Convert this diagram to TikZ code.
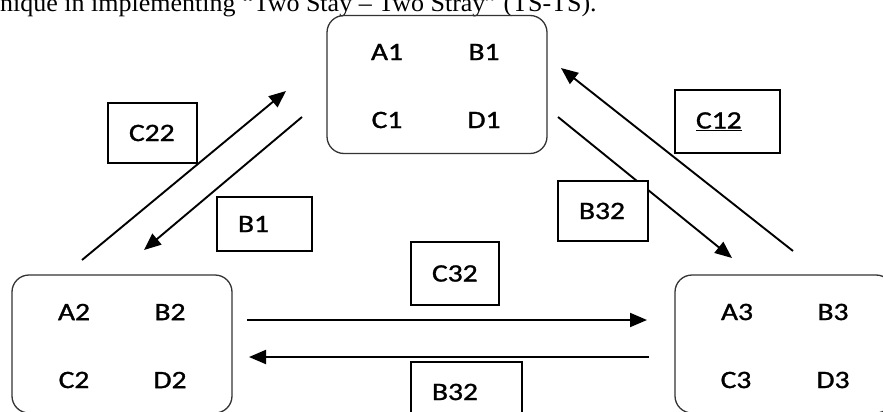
\documentclass[tikz,border=0pt]{standalone}
\usepackage{fontspec}
\setmainfont{Carlito}[FakeStretch=1.18,FakeBold=1.2]
\newfontfamily\headfont{Liberation Serif}[FakeStretch=1.04]
\usetikzlibrary{arrows.meta}
\usetikzlibrary{positioning}
\tikzset{grp/.style={rectangle,draw=black!80,line width=1.3pt,rounded corners=17pt,minimum width=220pt,minimum height=138pt},
  lbl/.style={rectangle,draw,fill=white,line width=1.4pt,inner xsep=21pt,inner ysep=0pt,align=left},
  mv/.style={-{Triangle[length=17pt,width=14pt]},line width=1.9pt}}
\begin{document}
\begin{tikzpicture}[x=1pt,y=-1pt,font=\fontsize{25}{30}\selectfont]
    \useasboundingbox (0,0) rectangle (883,412);
    \clip (0,0) rectangle (883,412);
    \node at (0,12) [anchor=base west,inner sep=0pt,font=\headfont\fontsize{25}{29}\selectfont] (title) {nique in implementing “Two Stay – Two Stray” (TS-TS).};
    \node at (437,84.5) [grp] (g1) {};
    \node at (122,344) [grp] (g2) {};
    \node at (784,344) [grp,minimum width=218pt] (g3) {};
    \node at (387,52) (a1) {A1};
    \node at (484,52) (b1) {B1};
    \node at (387,120) (c1) {C1};
    \node at (484,120) (d1) {D1};
    \node at (74,312) (a2) {A2};
    \node at (170,312) (b2) {B2};
    \node at (74,380) (c2) {C2};
    \node at (170,380) (d2) {D2};
    \node at (737,312) (a3) {A3};
    \node at (833,312) (b3) {B3};
    \node at (736,380) (c3) {C3};
    \node at (833,380) (d3) {D3};
    \coordinate (l_up_s) at (82,260);
    \coordinate (l_up_e) at (286,91);
    \coordinate (l_dn_s) at (302,117);
    \coordinate (l_dn_e) at (144,250);
    \coordinate (r_dn_s) at (558,117);
    \coordinate (r_dn_e) at (732,258);
    \coordinate (r_up_s) at (793,251);
    \coordinate (r_up_e) at (561,68);
    \coordinate (m_rt_s) at (247,320);
    \coordinate (m_rt_e) at (647,320);
    \coordinate (m_lt_s) at (649,357);
    \coordinate (m_lt_e) at (249,357);
    \draw [mv] (l_up_s) to (l_up_e);
    \draw [mv] (l_dn_s) to (l_dn_e);
    \draw [mv] (r_dn_s) to (r_dn_e);
    \draw [mv] (r_up_s) to (r_up_e);
    \draw [mv] (m_rt_s) to (m_rt_e);
    \draw [mv] (m_lt_s) to (m_lt_e);
    \node at (152.5,133) [lbl,text width=47pt,minimum height=60pt] (c22) {C22};
    \node at (264.5,224) [lbl,text width=53pt,minimum height=54pt] (b1m) {B1};
    \node at (455,273.5) [lbl,text width=46pt,minimum height=63pt] (c32) {C32};
    \node at (466.5,392) [lbl,text width=69pt,minimum height=60pt] (b32l) {B32};
    \node at (603,211) [lbl,text width=48pt,minimum height=60pt] (b32u) {B32};
    \node at (727.5,121.5) [lbl,text width=63pt,minimum height=63pt] (c12) {\underline{C12}};
  \end{tikzpicture}
\end{document}
